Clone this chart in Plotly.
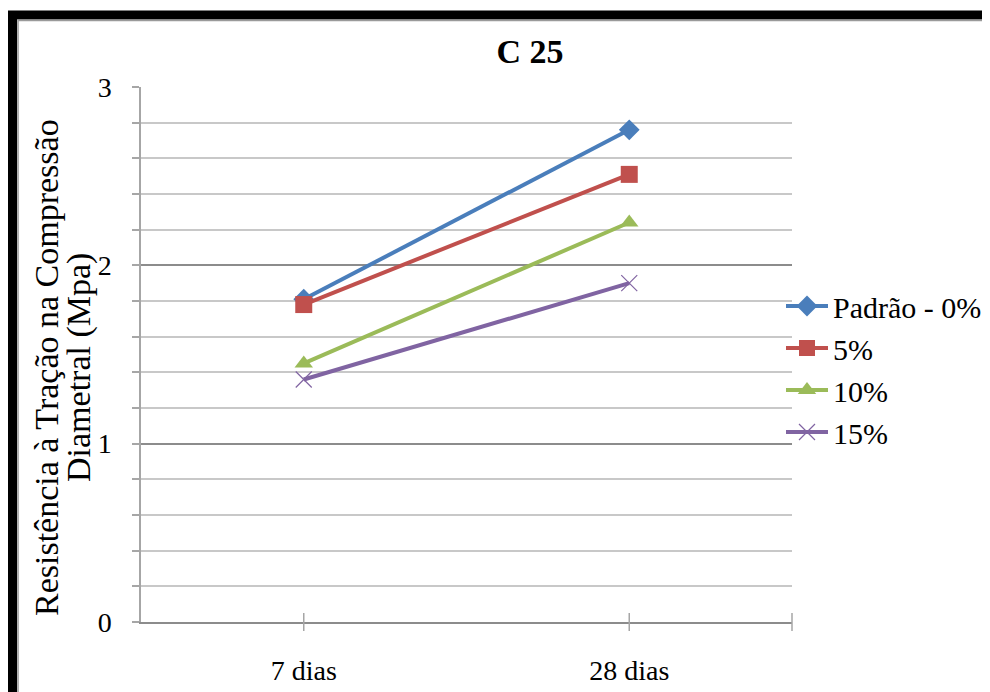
import plotly.graph_objects as go

categories = ["7 dias", "28 dias"]
padrao = [1.81, 2.76]
p5 = [1.78, 2.51]
p10 = [1.45, 2.24]
p15 = [1.36, 1.90]
series_names = ["Padrão - 0%", "5%", "10%", "15%"]
y_tick_vals = [0, 1, 2, 3]
title_text = "C 25"
y_title_lines = ["Resistência à Tração na Compressão", "Diametral (Mpa)"]

colors = ["#4A7EBB", "#C0504D", "#9BBB59", "#8064A2"]
symbols = ["diamond", "square", "triangle-up", "x-thin-open"]
sizes = [16, 17, 16, 16]

# page body adds an 8px offset; compensate so the picture lines up
OFF = 8
W, H = 990 - OFF, 692 - OFF
L, R, T, B = 141 - OFF, 792 - OFF, 87 - OFF, 622 - OFF
pw, ph = R - L, B - T


def px_x(p):
    return (p - OFF - L) / pw


def px_y(p):
    return (B - (p - OFF)) / ph


fig = go.Figure()
for name, vals, c, s, sz in zip(series_names, [padrao, p5, p10, p15], colors, symbols, sizes):
    fig.add_trace(go.Scatter(
        x=categories, y=vals, name=name, mode="lines+markers",
        line=dict(color=c, width=4),
        marker=dict(symbol=s, size=sz, color=c,
                    line=dict(color=c, width=1.2 if s.startswith("x") else 0)),
    ))

serif = "Liberation Serif, Times New Roman, serif"

fig.update_layout(
    template="none",
    width=W, height=H,
    margin=dict(l=L, r=W - R, t=T, b=H - B, autoexpand=False),
    paper_bgcolor="white", plot_bgcolor="white",
    font=dict(family=serif, color="black"),
    title=dict(text="<b>" + title_text + "</b>", x=(530 - OFF) / W, xanchor="center",
               y=1 - (51 - OFF) / H, yanchor="middle",
               font=dict(family=serif, size=34, color="black")),
    showlegend=True,
    legend=dict(x=px_x(781), xanchor="left", y=px_y(280), yanchor="top",
                font=dict(family=serif, size=30, color="black"),
                bgcolor="rgba(0,0,0,0)", borderwidth=0, itemwidth=42, tracegroupgap=0),
    xaxis=dict(
        type="category", range=[-0.5, 1.5], automargin=False,
        showgrid=False, showline=True, linecolor="#8C8C8C", linewidth=1.5,
        ticks="", tickfont=dict(family=serif, size=28, color="black"),
        ticklabelstandoff=23, zeroline=False,
    ),
    yaxis=dict(
        range=[0, 3], tickvals=y_tick_vals, showgrid=True, automargin=False,
        gridcolor="#8C8C8C", gridwidth=2,
        showline=True, linecolor="#A6A6A6", linewidth=1.5,
        ticks="outside", ticklen=7, tickcolor="#A6A6A6", tickwidth=1.5,
        tickfont=dict(family=serif, size=28, color="black"),
        ticklabelstandoff=15, zeroline=False,
        minor=dict(dtick=0.2, showgrid=True, gridcolor="#C8C8C8", gridwidth=1.5,
                   ticks="outside", ticklen=7, tickcolor="#A6A6A6", tickwidth=1.5),
    ),
)

# y-axis title as two rotated lines
for line_text, xc in zip(y_title_lines, [46, 79]):
    fig.add_annotation(text=line_text, textangle=-90, xref="paper", yref="paper",
                       x=px_x(xc), y=px_y(368), xanchor="center", yanchor="middle",
                       showarrow=False, font=dict(family=serif, size=34, color="black"))

# crossing tick marks on category axis
shapes = []
for c in categories:
    shapes.append(dict(type="line", xref="x", yref="paper", x0=c, x1=c,
                       y0=px_y(631), y1=px_y(613), line=dict(color="#A6A6A6", width=1.5)))
shapes.append(dict(type="line", xref="paper", yref="paper", x0=1, x1=1,
                   y0=px_y(631), y1=px_y(613), line=dict(color="#A6A6A6", width=1.5)))
# black frame
shapes.append(dict(type="rect", xref="paper", yref="paper",
                   x0=px_x(12.5), x1=px_x(1010), y0=px_y(15), y1=px_y(710),
                   line=dict(color="black", width=9), layer="above"))
shapes.append(dict(type="rect", xref="paper", yref="paper",
                   x0=px_x(18), x1=px_x(1010), y0=px_y(20.5), y1=px_y(710),
                   line=dict(color="#9A9A9A", width=1.5), layer="above"))
fig.update_layout(shapes=shapes)

fig.write_html("out.html")
